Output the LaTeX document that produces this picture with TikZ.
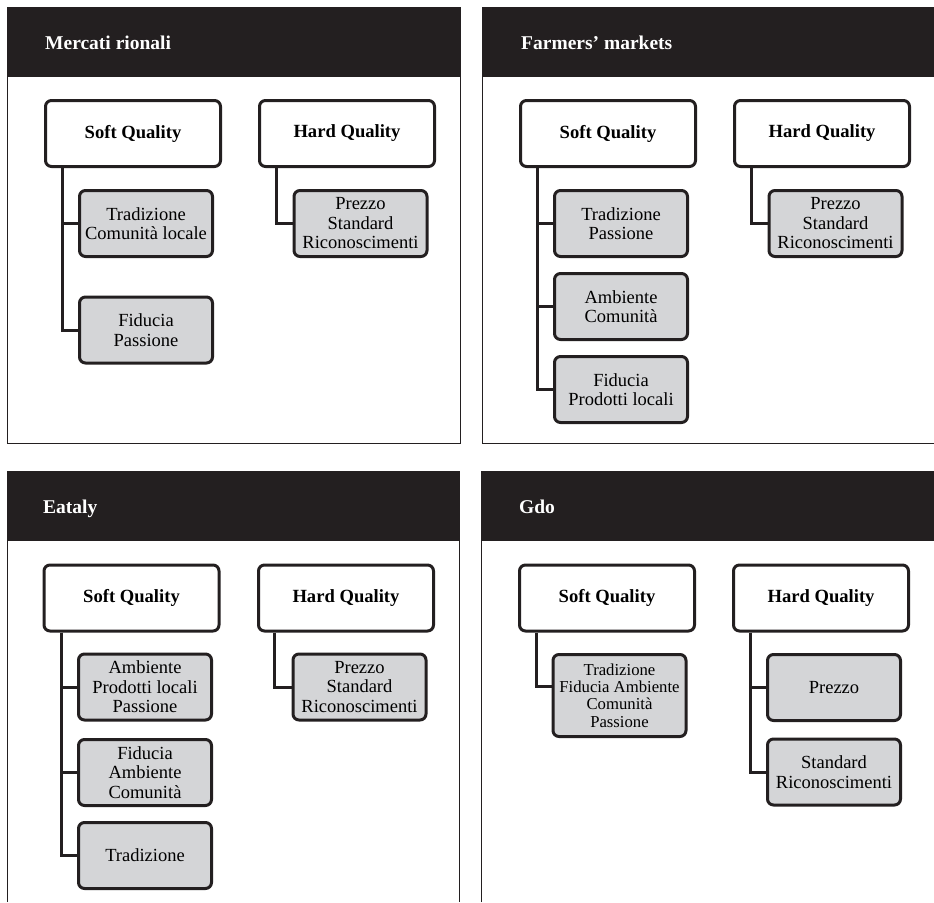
\documentclass[tikz,border=0pt]{standalone}
\usepackage{fontspec}
\setmainfont{Liberation Serif}
\usetikzlibrary{backgrounds}
\definecolor{ink}{HTML}{231F20}
\definecolor{boxgray}{HTML}{D4D5D7}
\begin{document}
\begin{tikzpicture}[x=1pt,y=-1pt,
  topbox/.style={draw=ink, line width=3pt, rounded corners=6pt, fill=white,
    minimum width=175pt, minimum height=66pt, inner sep=0pt, align=center,
    font=\bfseries\fontsize{18.6}{19.5}\selectfont},
  subbox/.style={draw=ink, line width=3pt, rounded corners=6pt, fill=boxgray,
    minimum width=133pt, minimum height=66pt, inner sep=0pt, align=center,
    font=\fontsize{18.5}{19.5}\selectfont},
  link/.style={draw=ink, line width=3pt},
  frame/.style={draw=ink, line width=1pt},
  header/.style={fill=ink},
  title/.style={anchor=base west, text=white, inner sep=0pt,
    font=\bfseries\fontsize{19.5}{22}\selectfont}
]
\useasboundingbox (0,0) rectangle (934,902);

% frames and headers
\draw[frame] (7,7) rectangle (460,443);
\fill[header] (7,7) rectangle (460.5,77);
\draw[frame] (934,443) -- (482,443) -- (482,7);
\fill[header] (481.5,7) rectangle (934,77);
\draw[frame] (7,902) -- (7,471) -- (459,471) -- (459,902);
\fill[header] (6.5,471) rectangle (459.5,541);
\draw[frame] (481,902) -- (481,471) -- (934,471);
\fill[header] (480.5,471) rectangle (934,541);

\node[title] (t1) at (45,49) {Mercati rionali};
\node[title] (t2) at (521,49) {Farmers’ markets};
\node[title] (t3) at (43,513) {Eataly};
\node[title] (t4) at (519,513) {Gdo};

% panel 1
\node[topbox] (s1) at (133,133.5) {Soft Quality};
\node[topbox] (h1) at (347,133.5) {Hard Quality};
\node[subbox] (s1a) at (146,223.5) {Tradizione\\Comunità locale};
\node[subbox] (s1b) at (146,330) {Fiducia\\Passione};
\node[subbox] (h1a) at (360.5,223.5) {Prezzo\\Standard\\Riconoscimenti};

% panel 2
\node[topbox] (s2) at (608,133.5) {Soft Quality};
\node[topbox] (h2) at (822,133.5) {Hard Quality};
\node[subbox] (s2a) at (621,223.5) {Tradizione\\Passione};
\node[subbox] (s2b) at (621,306.5) {Ambiente\\Comunità};
\node[subbox] (s2c) at (621,389.5) {Fiducia\\Prodotti locali};
\node[subbox] (h2a) at (835.5,223.5) {Prezzo\\Standard\\Riconoscimenti};

% panel 3
\node[topbox] (s3) at (131.5,598) {Soft Quality};
\node[topbox] (h3) at (346,598) {Hard Quality};
\node[subbox] (s3a) at (145,687) {Ambiente\\Prodotti locali\\Passione};
\node[subbox] (s3b) at (145,772.5) {Fiducia\\Ambiente\\Comunità};
\node[subbox] (s3c) at (145,855.5) {Tradizione};
\node[subbox] (h3a) at (359.5,687) {Prezzo\\Standard\\Riconoscimenti};

% panel 4
\node[topbox] (s4) at (607,598) {Soft Quality};
\node[topbox] (h4) at (821,598) {Hard Quality};
\node[subbox, minimum height=82pt, font=\fontsize{16.7}{17.4}\selectfont] (s4a) at (619.5,695.5) {Tradizione\\Fiducia Ambiente\\Comunità\\Passione};
\node[subbox] (h4a) at (834,687.5) {Prezzo};
\node[subbox] (h4b) at (834,772) {Standard\\Riconoscimenti};

% connectors
\begin{scope}[on background layer]
\draw[link] (62,0 |- s1.south) |- (s1b.west);
\draw[link] (62,0 |- s1.south) |- (s1a.west);
\draw[link] (276,0 |- h1.south) |- (h1a.west);

\draw[link] (537,0 |- s2.south) |- (s2c.west);
\draw[link] (537,0 |- s2.south) |- (s2b.west);
\draw[link] (537,0 |- s2.south) |- (s2a.west);
\draw[link] (751,0 |- h2.south) |- (h2a.west);

\draw[link] (61,0 |- s3.south) |- (s3c.west);
\draw[link] (61,0 |- s3.south) |- (s3b.west);
\draw[link] (61,0 |- s3.south) |- (s3a.west);
\draw[link] (274,0 |- h3.south) |- (h3a.west);

\draw[link] (536,0 |- s4.south) |- ([yshift=9.5pt]s4a.west);
\draw[link] (750,0 |- h4.south) |- (h4b.west);
\draw[link] (750,0 |- h4.south) |- (h4a.west);
\end{scope}
\end{tikzpicture}
\end{document}
